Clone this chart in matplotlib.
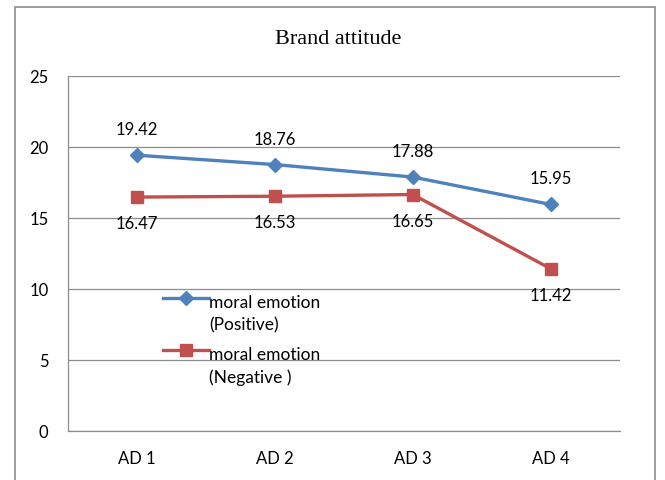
import matplotlib.pyplot as plt
from matplotlib.patches import Rectangle
from matplotlib.legend_handler import HandlerLine2D

# data
ads = ['AD 1', 'AD 2', 'AD 3', 'AD 4']
positive = [19.42, 18.76, 17.88, 15.95]
negative = [16.47, 16.53, 16.65, 11.42]
yticks = [0, 5, 10, 15, 20, 25]

blue = '#4F81BD'
red = '#C0504D'
font = 'Lato'


# excel puts the legend key next to the first line of a wrapped label
class TopHandler(HandlerLine2D):
	def adjust_drawing_area(self, legend, orig_handle, xdescent, ydescent, width, height, fontsize):
		xd, yd, w, h = super().adjust_drawing_area(legend, orig_handle, xdescent, ydescent, width, height, fontsize)
		return xd, yd - 1.8 * fontsize, w, h


fig = plt.figure(figsize=(6.65, 4.81), dpi=100)
ax = fig.add_axes([0.102, 0.102, 0.83, 0.738])

x = list(range(len(ads)))
l1, = ax.plot(x, positive, color=blue, lw=2.4, marker='D', ms=7, label='moral emotion\n(Positive)')
l2, = ax.plot(x, negative, color=red, lw=2.4, marker='s', ms=9, label='moral emotion\n(Negative )')

# data labels: positive above, negative below
for i, v in enumerate(positive):
	ax.annotate('{:.2f}'.format(v), (i, v), xytext=(0, 13), textcoords='offset points',
		ha='center', va='bottom', fontsize=12, family=font)
for i, v in enumerate(negative):
	ax.annotate('{:.2f}'.format(v), (i, v), xytext=(0, -13), textcoords='offset points',
		ha='center', va='top', fontsize=12, family=font)

ax.set_xlim(-0.5, 3.5)
ax.set_ylim(0, 25)
ax.set_yticks(yticks)
ax.set_xticks(x)
ax.set_xticklabels(ads)
ax.tick_params(length=0, labelsize=12, colors='black')
ax.tick_params(axis='y', pad=14)
ax.tick_params(axis='x', pad=14)
for lab in ax.get_xticklabels() + ax.get_yticklabels():
	lab.set_family(font)
ax.yaxis.grid(True, color='#8c8c8c', lw=0.9)
ax.set_axisbelow(True)
for s in ['top', 'right']:
	ax.spines[s].set_visible(False)
for s in ['left', 'bottom']:
	ax.spines[s].set_color('#8c8c8c')
	ax.spines[s].set_linewidth(0.9)

leg = ax.legend(loc='upper left', bbox_to_anchor=(0.145, 0.43), frameon=False,
	handlelength=2.6, handletextpad=0.05, labelspacing=0.8,
	handler_map={l1: TopHandler(), l2: TopHandler()},
	prop={'family': font, 'size': 12.5})
for t in leg.get_texts():
	t.set_linespacing(1.45)

fig.text(0.508, 0.917, 'Brand attitude', ha='center', va='center',
	family='Liberation Serif', fontsize=16)

# outer chart border
fig.patches.append(Rectangle((0.023, -0.1), 0.962, 1.083, transform=fig.transFigure,
	fill=False, edgecolor='#8c8c8c', lw=1.2))

fig.savefig('out.png', dpi=100)
